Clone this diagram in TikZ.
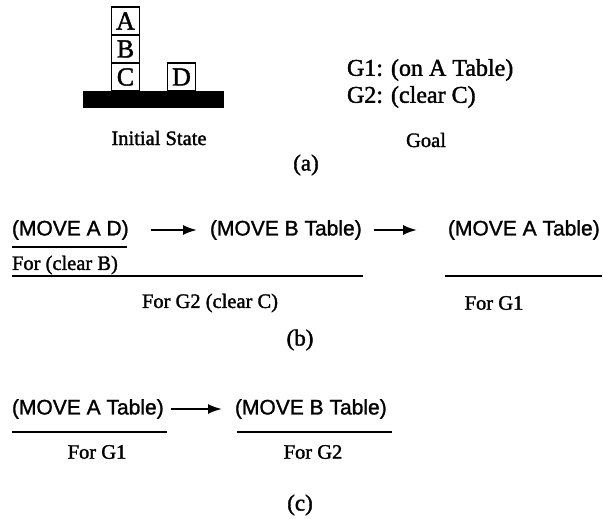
\documentclass[tikz,border=0pt]{standalone}
\usepackage{fontspec}
\setmainfont{Liberation Serif}[FakeBold=1.6]
\newfontfamily\movefont{Liberation Sans}[FakeBold=1.3]
\usetikzlibrary{arrows.meta,positioning}

\begin{document}
\begin{tikzpicture}[
  x=1pt,y=-1pt,
  node distance=0pt,
  every node/.style={inner sep=0pt,outer sep=0pt},
  blk/.style={draw,line width=1.8pt,minimum width=28pt,minimum height=28pt,font=\fontsize{26}{26}\selectfont},
  mv/.style={font=\movefont\fontsize{21}{24}\selectfont,anchor=west},
  capt/.style={font=\fontsize{20.5}{24}\selectfont},
  goal/.style={font=\fontsize{24}{27}\selectfont,anchor=west},
  tag/.style={font=\fontsize{23}{26}\selectfont},
  rule/.style={line width=2pt},
  arr/.style={-{Latex[length=14pt,width=10pt]},line width=2pt}
]
\useasboundingbox (0,0) rectangle (605,519);

% (a) the blocks on the table
\node[fill,minimum width=141pt,minimum height=17pt] (table) at (153.5,99.5) {};
\node[blk] (bA) at (125.5,21) {A};
\node[blk,below=of bA] (bB) {B};
\node[blk,below=of bB] (bC) {C};
\node[blk] (bD) at (181.5,77) {D};
\node[capt] (init) at (159,138) {Initial State};
\node[goal] (g1) at (347,70) {G1: (on A Table)};
\node[goal] (g2) at (347,97) {G2: (clear C)};
\node[capt] (goal) at (426,140) {Goal};
\node[tag] (la) at (306,165) {(a)};

% (b) plan built for G2 first
\node[mv] (mad) at (12,230) {(MOVE A D)};
\node[mv] (mbt) at (210,230) {(MOVE B Table)};
\node[mv] (mat) at (448,230) {(MOVE A Table)};
\draw[arr] ([xshift=22pt]mad.east) -- ([xshift=-13pt]mbt.west);
\draw[arr] ([xshift=12pt]mbt.east) -- ([xshift=-31pt]mat.west);
\draw[rule] (12,247) -- (127,247);
\node[capt,anchor=west] (fcb) at (12,265) {For (clear B)};
\draw[rule] (12,276) -- (363,276);
\node[capt] (fg2c) at (210,303) {For G2 (clear C)};
\draw[rule] (445,276) -- (602,276);
\node[capt] (fg1b) at (494,303) {For G1};
\node[tag] (lb) at (300,340) {(b)};

% (c) plan built for G1 first
\node[mv] (cat) at (12,409) {(MOVE A Table)};
\node[mv] (cbt) at (235,409) {(MOVE B Table)};
\draw[arr] ([xshift=7pt]cat.east) -- ([xshift=-13pt]cbt.west);
\draw[rule] (12,432) -- (167,432);
\draw[rule] (237,432) -- (392,432);
\node[capt] (fg1c) at (97,452) {For G1};
\node[capt] (fg2) at (313,452) {For G2};
\node[tag] (lc) at (300,505) {(c)};
\end{tikzpicture}
\end{document}
